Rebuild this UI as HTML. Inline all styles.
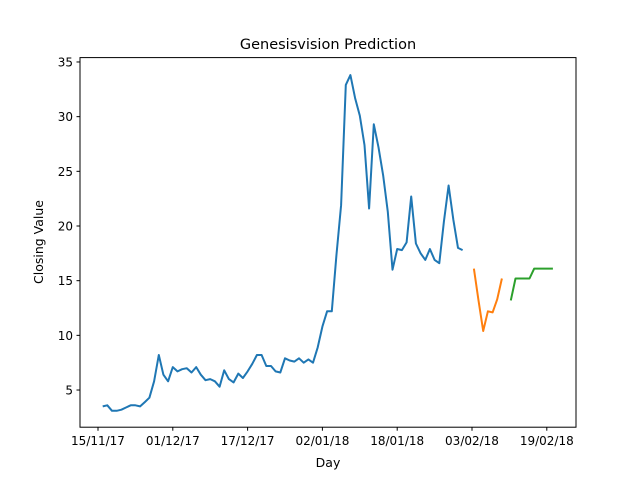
<!DOCTYPE html>
<html><head><meta charset="utf-8"><style>
body{margin:0;background:#fff;}
svg{display:block;font-family:"DejaVu Sans","Liberation Sans",sans-serif;}
</style></head><body>
<svg id="chart" width="640" height="480" viewBox="0 0 640 480" xmlns="http://www.w3.org/2000/svg">
<rect width="640" height="480" fill="#fff"/>
<text x="328" y="49" font-size="14.5" text-anchor="middle">Genesisvision Prediction</text>
<text x="328" y="467" font-size="12.5" text-anchor="middle">Day</text>
<text x="0" y="0" font-size="12.5" text-anchor="middle" transform="translate(43,242) rotate(-90)">Closing Value</text>
<g id="ticks"></g>
<g id="series"></g>
<rect x="80" y="57.6" width="496" height="369.6" fill="none" stroke="#000" stroke-width="1"/>
</svg>
<script>
const xTickDays=[0,16,32,48,64,80,96];
const xTickLabels=["15/11/17","01/12/17","17/12/17","02/01/18","18/01/18","03/02/18","19/02/18"];
const yTicks=[5,10,15,20,25,30,35];
const actualStartDay=1;
const actualValues=[3.5,3.6,3.1,3.1,3.2,3.4,3.6,3.6,3.5,3.9,4.3,5.8,8.2,6.4,5.8,7.1,6.7,6.9,7.0,6.6,7.1,6.4,5.9,6.0,5.8,5.3,6.8,6.0,5.7,6.5,6.1,6.7,7.4,8.2,8.2,7.2,7.2,6.7,6.6,7.9,7.7,7.6,7.9,7.5,7.8,7.5,8.9,10.8,12.2,12.2,17.3,21.9,32.9,33.8,31.7,30.1,27.4,21.6,29.3,27.2,24.6,21.3,16.0,17.9,17.8,18.5,22.7,18.4,17.5,16.9,17.9,16.9,16.6,20.4,23.7,20.6,18.0,17.8];
const predStartDay=80.4;
const predValues=[16.1,13.2,10.4,12.2,12.1,13.3,15.2];
const futureStartDay=88.3;
const futureValues=[13.2,15.2,15.2,15.2,15.2,16.1,16.1,16.1,16.1,16.1];

function xs(d){return 98+d*4.675;}
function ys(v){return 444.7-v*10.935;}
const NS="http://www.w3.org/2000/svg";
const tg=document.getElementById('ticks');
xTickDays.forEach((d,i)=>{
  const x=xs(d);
  const l=document.createElementNS(NS,'line');
  l.setAttribute('x1',x);l.setAttribute('x2',x);l.setAttribute('y1',427.2);l.setAttribute('y2',430.7);l.setAttribute('stroke','#000');
  
  
  tg.appendChild(l);
  const t=document.createElementNS(NS,'text');
  t.setAttribute('x',x);t.setAttribute('y',445);t.setAttribute('font-size','12');t.setAttribute('text-anchor','middle');
  t.textContent=xTickLabels[i];
  
  
  tg.appendChild(t);
});
yTicks.forEach(v=>{
  const y=ys(v);
  const l=document.createElementNS(NS,'line');
  l.setAttribute('x1',76.5);l.setAttribute('x2',80);l.setAttribute('y1',y);l.setAttribute('y2',y);l.setAttribute('stroke','#000');
  
  
  tg.appendChild(l);
  const t=document.createElementNS(NS,'text');
  t.setAttribute('x',73);t.setAttribute('y',y+4.5);t.setAttribute('font-size','12');t.setAttribute('text-anchor','end');
  t.textContent=v;
  
  
  tg.appendChild(t);
});
const sg=document.getElementById('series');
function drawLine(start,vals,color,name){
  const p=vals.map((v,i)=>xs(start+i).toFixed(1)+','+ys(v).toFixed(1)).join(' ');
  const pl=document.createElementNS(NS,'polyline');
  pl.setAttribute('points',p);pl.setAttribute('fill','none');pl.setAttribute('stroke',color);pl.setAttribute('stroke-width','2');pl.setAttribute('stroke-linejoin','round');
  
  
  sg.appendChild(pl);
}
drawLine(actualStartDay,actualValues,'#1f77b4','actual-series-line');
drawLine(predStartDay,predValues,'#ff7f0e','prediction-series-line');
drawLine(futureStartDay,futureValues,'#2ca02c','future-series-line');
</script>
</body></html>
